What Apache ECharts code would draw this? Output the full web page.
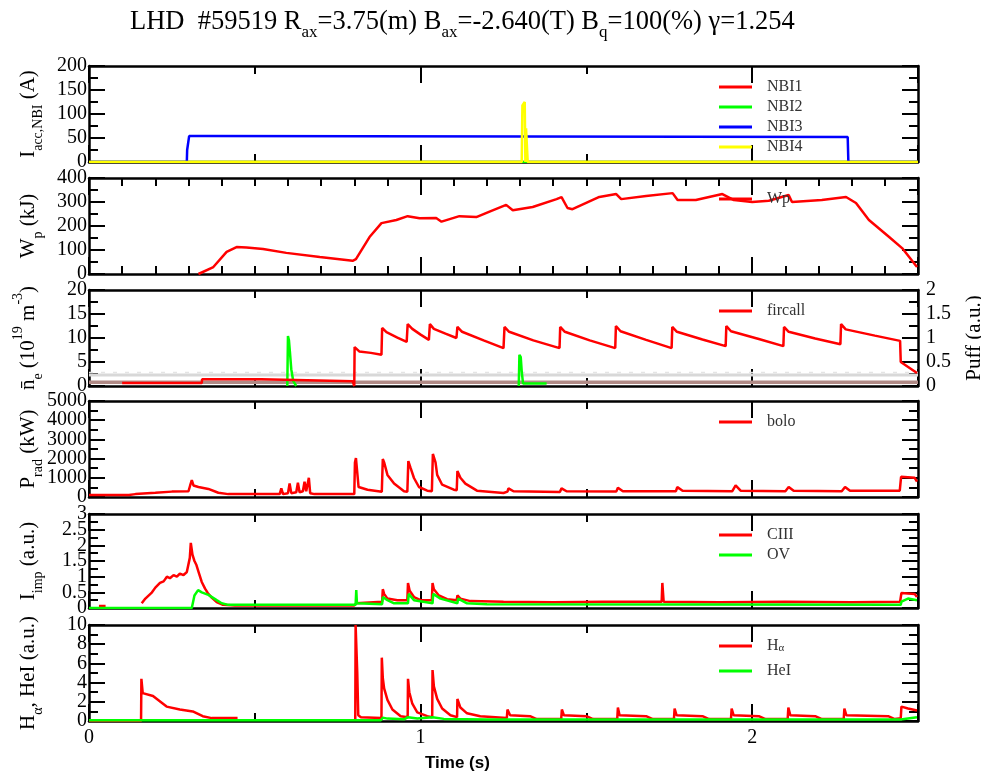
<!DOCTYPE html>
<html><head><meta charset="utf-8">
<script src="https://cdn.jsdelivr.net/npm/echarts@6/dist/echarts.min.js"></script>
<style>html,body{margin:0;padding:0;background:#fff}#c{width:981px;height:773px}</style>
</head><body><div id="c"></div>
<script>
// ---------------- data (time [s], value) ----------------
const xTicks = [0, 1, 2];
const nbi1 = [[0,0],[2.5,0]];
const nbi2 = [[0,0],[2.5,0]];
const nbi3 = [[0,0],[0.295,0],[0.296,25],[0.300,28],[0.302,54],[0.35,54],[0.352,52],[2.288,52],[2.29,0],[2.5,0]];
const nbi4 = [[0,0],[1.305,0],[1.307,118],[1.314,125],[1.316,0],[1.318,70],[1.321,70],[1.323,0],[2.5,0]];

const wp = [[0.33,0],[0.375,29],[0.415,92],[0.445,112],[0.475,110],[0.525,104],[0.595,88],[0.696,71],[0.795,55],[0.805,62],[0.846,154],[0.882,212],[0.927,225],[0.961,241],[0.997,232],[1.047,233],[1.063,218],[1.117,241],[1.168,237],[1.208,260],[1.258,288],[1.278,266],[1.338,279],[1.41,312],[1.425,320],[1.443,275],[1.458,270],[1.539,321],[1.59,333],[1.605,312],[1.68,325],[1.76,337],[1.775,308],[1.83,308],[1.91,333],[1.945,308],[2.0,300],[2.05,305],[2.11,329],[2.12,300],[2.21,308],[2.283,321],[2.313,296],[2.352,225],[2.413,154],[2.452,108],[2.497,29]];

const fircall = [[0.10,0.6],[0.30,0.6],[0.34,0.6],[0.341,1.4],[0.52,1.4],[0.521,1.0],[0.795,1.0],[0.80,0],
 [0.801,8.1],[0.815,7.2],[0.85,6.9],[0.882,6.5],
 [0.884,12.1],[0.897,11.2],[0.93,10.1],[0.958,9.2],
 [0.961,12.9],[0.975,11.9],[1.0,10.7],[1.025,9.6],
 [1.028,12.9],[1.040,11.9],[1.075,10.9],[1.108,10.0],
 [1.111,12.3],[1.125,11.3],[1.19,9.5],[1.250,7.9],
 [1.253,12.3],[1.267,11.3],[1.34,9.5],[1.419,7.9],
 [1.421,12.3],[1.435,11.3],[1.51,9.5],[1.587,7.9],
 [1.589,12.5],[1.603,11.4],[1.68,9.6],[1.757,7.9],
 [1.759,12.3],[1.773,11.3],[1.85,9.7],[1.920,8.3],
 [1.922,12.5],[1.936,11.4],[2.02,9.8],[2.094,8.3],
 [2.096,12.3],[2.110,11.3],[2.19,9.9],[2.266,8.7],
 [2.268,12.9],[2.282,11.8],[2.37,10.5],[2.446,9.4],
 [2.448,5.0],[2.452,4.6],[2.497,2.7]];
const puff = [[0.598,0],[0.600,1.04],[0.603,0.95],[0.606,0.7],[0.610,0.35],[0.616,0.1],[0.625,0],[0.626,null],
 [1.296,0],[1.298,0.65],[1.302,0.6],[1.305,0.3],[1.309,0.05],[1.38,0.05]];
const puffGrey = [[0,0.23],[2.5,0.23]];
const puffGrey2 = [[0,0.28],[2.5,0.28]];
const puffBrown = [[0,0.08],[2.5,0.08]];

const bolo = [[0,100],[0.12,100],[0.14,150],[0.2,220],[0.25,280],[0.3,300],[0.305,600],[0.31,880],[0.315,600],[0.33,520],[0.36,420],[0.39,220],[0.42,150],[0.575,150],[0.58,450],[0.585,150],[0.6,200],[0.605,700],[0.61,200],[0.625,250],[0.63,750],[0.635,250],[0.645,300],[0.65,800],[0.655,300],[0.66,250],[0.663,1000],[0.667,200],[0.68,150],[0.8,150],[0.802,1800],[0.805,2030],[0.81,2000],[0.813,520],[0.84,380],[0.883,270],[0.886,1980],[0.89,1800],[0.9,1150],[0.92,700],[0.95,300],[0.96,270],[0.963,1870],[0.97,1500],[0.98,990],[0.995,520],[1.02,330],[1.034,300],[1.037,2240],[1.045,1800],[1.05,1150],[1.065,640],[1.1,380],[1.109,350],[1.111,1350],[1.12,1000],[1.135,700],[1.17,330],[1.25,210],[1.262,280],[1.265,450],[1.28,300],[1.42,260],[1.425,450],[1.44,300],[1.59,280],[1.595,480],[1.61,300],[1.77,300],[1.774,520],[1.79,320],[1.94,300],[1.95,600],[1.965,330],[2.1,300],[2.11,520],[2.125,320],[2.27,300],[2.28,520],[2.295,320],[2.445,330],[2.449,1050],[2.49,1000],[2.497,800]];

const ciii = [[0.03,0.06],[0.05,0.06],[0.051,null],[0.159,0.15],[0.17,0.3],[0.19,0.5],[0.20,0.65],[0.214,0.8],[0.225,0.85],[0.235,1.0],[0.244,0.95],[0.255,1.05],[0.265,1.0],[0.274,1.1],[0.285,1.05],[0.295,1.15],[0.300,1.2],[0.304,1.6],[0.307,2.08],[0.312,1.7],[0.318,1.5],[0.324,1.37],[0.332,1.1],[0.340,0.83],[0.350,0.62],[0.358,0.48],[0.370,0.33],[0.385,0.19],[0.404,0.1],[0.44,0.08],[0.80,0.08],[0.806,0.15],[0.884,0.2],[0.886,0.6],[0.890,0.45],[0.900,0.3],[0.930,0.25],[0.960,0.25],[0.962,0.8],[0.967,0.55],[0.980,0.35],[1.000,0.25],[1.034,0.25],[1.036,0.8],[1.040,0.6],[1.055,0.4],[1.080,0.28],[1.109,0.25],[1.111,0.4],[1.120,0.3],[1.150,0.22],[1.25,0.2],[1.40,0.18],[1.55,0.2],[1.727,0.2],[1.729,0.8],[1.733,0.2],[1.9,0.18],[2.1,0.2],[2.3,0.18],[2.446,0.2],[2.45,0.48],[2.49,0.45],[2.497,0.35]];
const ov = [[0,0],[0.31,0],[0.318,0.4],[0.329,0.57],[0.34,0.5],[0.36,0.42],[0.385,0.25],[0.4,0.15],[0.42,0.1],[0.804,0.1],[0.806,0.57],[0.808,0.15],[0.884,0.12],[0.886,0.35],[0.9,0.25],[0.92,0.15],[0.962,0.15],[0.964,0.45],[0.98,0.25],[1.036,0.15],[1.038,0.45],[1.06,0.3],[1.111,0.15],[1.113,0.3],[1.14,0.15],[1.2,0.12],[2.448,0.1],[2.45,0.2],[2.47,0.3],[2.497,0.25]];

const halpha = [[0,0],[0.157,0],[0.158,4.4],[0.162,2.9],[0.193,2.6],[0.234,1.5],[0.274,1.2],[0.313,1.0],[0.343,0.5],[0.37,0.3],[0.448,0.3],[0.449,null],[0.803,0.1],[0.804,10],[0.807,10],[0.809,5],[0.812,0.6],[0.82,0.4],[0.882,0.3],[0.883,6.6],[0.886,4.5],[0.89,3.4],[0.9,2.2],[0.915,1.2],[0.94,0.5],[0.961,0.4],[0.962,4.4],[0.966,3.0],[0.975,1.8],[0.99,0.9],[1.02,0.5],[1.035,0.4],[1.036,5.3],[1.04,3.6],[1.05,2.3],[1.065,1.3],[1.09,0.6],[1.11,0.4],[1.111,2.3],[1.12,1.4],[1.14,0.8],[1.18,0.5],[1.26,0.3],[1.262,1.2],[1.27,0.6],[1.33,0.5],[1.35,0.2],[1.424,0.2],[1.426,1.2],[1.432,0.6],[1.5,0.5],[1.52,0.2],[1.593,0.2],[1.595,1.4],[1.6,0.6],[1.68,0.5],[1.7,0.2],[1.764,0.2],[1.766,1.3],[1.772,0.6],[1.85,0.5],[1.87,0.2],[1.936,0.2],[1.938,1.3],[1.944,0.6],[2.02,0.5],[2.04,0.2],[2.107,0.2],[2.109,1.4],[2.115,0.6],[2.19,0.5],[2.21,0.2],[2.276,0.2],[2.278,1.3],[2.284,0.6],[2.41,0.5],[2.43,0.2],[2.448,0.3],[2.45,1.5],[2.47,1.3],[2.497,1.1]];
const hei = [[0,0.08],[0.88,0.08],[0.886,0.35],[0.9,0.25],[0.95,0.18],[0.962,0.4],[0.99,0.25],[1.036,0.4],[1.07,0.22],[1.2,0.15],[1.595,0.15],[1.6,0.35],[1.63,0.15],[1.766,0.15],[1.77,0.35],[1.8,0.15],[1.938,0.15],[1.942,0.35],[1.97,0.15],[2.109,0.15],[2.113,0.35],[2.14,0.15],[2.278,0.15],[2.282,0.35],[2.31,0.15],[2.448,0.15],[2.45,0.35],[2.497,0.4]];

// y-axis ranges and names per panel
const yMax = [200, 400, 20, 5000, 3, 10];
const yStep = [50, 100, 5, 1000, 0.5, 2];
const yNames = ['I{s|acc,NBI} (A)', 'W{s|p} (kJ)', 'n\u0304{s|e} (10{u|19} m{u|-3})', 'P{s|rad} (kW)', 'I{s|imp} (a.u.)', 'H{s|\u03b1}, HeI (a.u.)'];
const legendNames = [['NBI1','NBI2','NBI3','NBI4'], ['Wp'], ['fircall'], ['bolo'], ['CIII','OV'], ['H\u03b1','HeI']];

// ---------------- layout ----------------
const F = 'Liberation Serif';
const tops = [66, 178, 290, 401, 514, 625];
const hts = [96, 96, 96, 96, 94, 96];
const RED = '#ff0000', GREEN = '#00ff00', BLUE = '#0000ff', YELLOW = '#ffff00';

const grids = tops.map((t, i) => ({left: 89, width: 829, top: t, height: hts[i], containLabel: false, outerBoundsMode: 'none'}));
const xAxes = [], yAxes = [];
const leftIdx = [], rightIdx = [];
const frameLine = {show: true, onZero: false, lineStyle: {color: '#000', width: 2.5}};
const richName = {
  s: {fontFamily: F, fontSize: 14, verticalAlign: 'bottom', lineHeight: 14, color: '#000'},
  u: {fontFamily: F, fontSize: 14, verticalAlign: 'top', lineHeight: 10, color: '#000'}
};
const plain = v => String(Math.round(v * 1000) / 1000);
const labelFont = {fontFamily: F, fontSize: 20, color: '#000'};
for (let i = 0; i < 6; i++) {
  const xb = {
    type: 'value', gridIndex: i, min: 0, max: 2.5, interval: 1,
    splitLine: {show: false}, axisLine: frameLine,
    axisTick: {show: true, inside: true, length: 17, lineStyle: {color: '#000', width: 2}},
    minorTick: {show: true, splitNumber: i === 1 ? 10 : 2, length: 8, lineStyle: {color: '#000', width: 2}},
    minorSplitLine: {show: false}
  };
  xAxes.push(Object.assign({}, xb, {position: 'bottom',
    axisLabel: Object.assign({show: i === 5, showMinLabel: true, showMaxLabel: false, margin: 7,
      formatter: v => xTicks.indexOf(v) >= 0 ? String(v) : ''}, labelFont)}));
  xAxes.push(Object.assign({}, xb, {position: 'top', axisLabel: {show: false}}));

  const yb = {
    type: 'value', gridIndex: i, min: 0, max: yMax[i], interval: yStep[i],
    splitLine: {show: false}, axisLine: frameLine,
    axisTick: {show: true, inside: true, length: 16, lineStyle: {color: '#000', width: 2}},
    minorTick: {show: true, splitNumber: 2, length: 9, lineStyle: {color: '#000', width: 2}},
    minorSplitLine: {show: false}
  };
  // frame axis with ticks and name (no labels)
  leftIdx.push(yAxes.length);
  yAxes.push(Object.assign({}, yb, {position: 'left', axisLabel: {show: false},
    name: yNames[i], nameLocation: 'middle', nameRotate: 90, nameGap: 44,
    nameTextStyle: {fontFamily: F, fontSize: 21, color: '#000', lineHeight: 34, rich: richName}}));
  // two label-only axes so that crowded labels all stay visible
  const n = Math.round(yMax[i] / yStep[i]);
  const idxOf = v => Math.round(v / yStep[i]);
  const labelOnly = {type: 'value', gridIndex: i, min: 0, max: yMax[i], interval: yStep[i], position: 'left',
    splitLine: {show: false}, axisLine: {show: false}, axisTick: {show: false}, minorTick: {show: false}};
  yAxes.push(Object.assign({}, labelOnly, {axisLabel: Object.assign({show: true, margin: 2,
    showMinLabel: true, showMaxLabel: true,
    formatter: v => (idxOf(v) === 1 || idxOf(v) === n - 1) ? '' : plain(v)}, labelFont)}));
  yAxes.push(Object.assign({}, labelOnly, {axisLabel: Object.assign({show: true, margin: 2,
    showMinLabel: false, showMaxLabel: false,
    formatter: v => (idxOf(v) === 1 || idxOf(v) === n - 1) ? plain(v) : ''}, labelFont)}));
  rightIdx.push(yAxes.length);
  if (i === 2) {
    yAxes.push(Object.assign({}, yb, {position: 'right', max: 2, interval: 0.5,
      axisLabel: Object.assign({show: true, showMinLabel: true, showMaxLabel: true, margin: 8, formatter: plain}, labelFont),
      name: 'Puff (a.u.)', nameLocation: 'middle', nameRotate: 90, nameGap: 46,
      nameTextStyle: {fontFamily: F, fontSize: 21, color: '#000'}}));
  } else {
    yAxes.push(Object.assign({}, yb, {position: 'right', axisLabel: {show: false}}));
  }
}

function line(name, data, color, panel, right, width, extra) {
  return Object.assign({
    type: 'line', name: name, data: data,
    xAxisIndex: panel * 2, yAxisIndex: right ? rightIdx[panel] : leftIdx[panel],
    showSymbol: false, symbol: 'none', animation: false, connectNulls: false,
    color: color, itemStyle: {color: color},
    lineStyle: {color: color, width: width || 2.5}
  }, extra || {});
}

const series = [
  line('NBI1', nbi1, RED, 0),
  line('NBI2', nbi2, GREEN, 0),
  line('NBI3', nbi3, BLUE, 0),
  line('NBI4', nbi4, YELLOW, 0),
  line('Wp', wp, RED, 1),
  line('', puffGrey, '#d8d8d8', 2, true, 3),
  line('', puffGrey2, '#e4e4e4', 2, true, 1.5, {lineStyle: {color: '#e4e4e4', width: 1.5, type: [4, 8]}}),
  line('', puffBrown, '#b08a86', 2, true, 3.5),
  line('', puff, GREEN, 2, true),
  line('fircall', fircall, RED, 2),
  line('bolo', bolo, RED, 3),
  line('CIII', ciii, RED, 4),
  line('OV', ov, GREEN, 4),
  line('H\u03b1', halpha, RED, 5),
  line('HeI', hei, GREEN, 5)
];

const legends = legendNames.map((names, i) => ({
  data: names, left: 719, top: tops[i] + 13, orient: 'vertical', padding: 0,
  itemWidth: 33, itemHeight: 3, icon: 'rect', itemGap: i === 5 ? 9 : 4, selectedMode: false,
  formatter: n => n === 'H\u03b1' ? 'H{s|\u03b1}' : n,
  textStyle: {fontFamily: F, fontSize: 16, color: '#333', padding: [0, 0, 0, 10],
    rich: {s: {fontFamily: F, fontSize: 11, color: '#333', verticalAlign: 'bottom', lineHeight: 10}}}
}));

const chart = echarts.init(document.getElementById('c'), null, {renderer: 'canvas'});
chart.setOption({
  backgroundColor: '#fff',
  animation: false,
  title: [
    {text: '{a|LHD  #59519 R}{s|ax}{a|=3.75(m) B}{s|ax}{a|=-2.640(T) B}{s|q}{a|=100(%) \u03b3=1.254}',
     left: 125, top: -2,
     textStyle: {fontFamily: F, fontSize: 26.5, color: '#000', fontWeight: 'normal',
       rich: {a: {fontFamily: F, fontSize: 26.5, color: '#000', lineHeight: 38},
              s: {fontFamily: F, fontSize: 17, color: '#000', verticalAlign: 'bottom', lineHeight: 16}}}},
    {text: 'Time (s)', left: 420, top: 750,
     textStyle: {fontFamily: 'Liberation Sans', fontSize: 17, fontWeight: 'bold', color: '#000'}}
  ],
  legend: legends,
  grid: grids,
  xAxis: xAxes,
  yAxis: yAxes,
  series: series
});
</script></body></html>
